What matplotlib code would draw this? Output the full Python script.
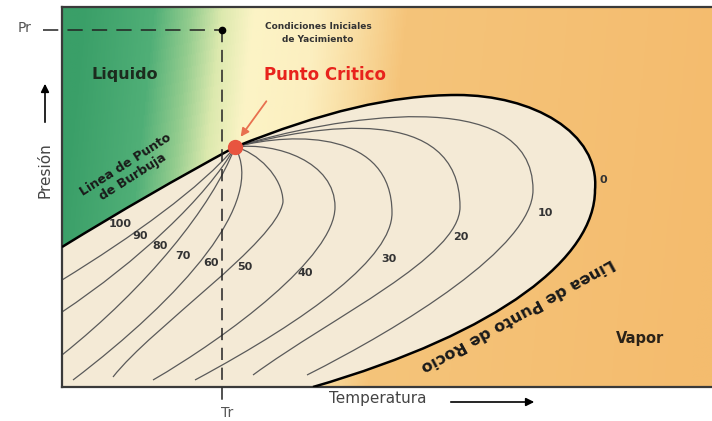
import numpy as np
import matplotlib.pyplot as plt
from matplotlib.path import Path
from matplotlib.patches import PathPatch
from matplotlib.colors import LinearSegmentedColormap

# --- data (arbitrary temperature / pressure units) ---
crit = (173, 240)
res_T, res_P = 160, 357          # condiciones iniciales de yacimiento

# bubble line (quadratic bezier), dew line (cubic bezier segments)
bubble = [(0, 140), (86, 193), crit]
dew = [crit, (260, 275), (330, 292), (395, 292),
       (470, 292), (538, 255), (533, 197),
       (533, 130), (440, 55), (251, 0)]

# quality lines (% liquid), cubic bezier control points
q90 = [crit, (140, 200), (70, 150), (0, 107)]
q80 = [crit, (145, 190), (75, 125), (0, 75)]
q70 = [crit, (150, 180), (85, 100), (0, 32)]
q60 = [crit, (205, 185), (120, 90), (11, 7)]
q50 = [crit, (195, 235), (221, 210), (221, 185), (215, 145), (90, 60), (51, 10)]
q40 = [crit, (215, 245), (273, 225), (273, 180), (273, 130), (165, 50), (91, 7)]
q30 = [crit, (235, 256), (330, 255), (330, 174), (330, 130), (250, 70), (133, 7)]
q20 = [crit, (255, 262), (398, 285), (398, 180), (398, 130), (270, 70), (191, 12)]
q10 = [crit, (270, 270), (471, 305), (471, 197), (471, 140), (340, 60), (245, 12)]
quality_lines = [q90, q80, q70, q60, q50, q40, q30, q20, q10]

q_labels = ["100", "90", "80", "70", "60", "50", "40", "30", "20", "10", "0"]
q_label_T = [58, 78, 98, 121, 149, 183, 243, 327, 399, 483, 541]
q_label_P = [163, 151, 141, 131, 124, 120, 114, 128, 150, 174, 207]

grad_pos = [0.0, 0.11, 0.166, 0.215, 0.265, 0.36, 0.43, 0.50, 1.0]
grad_col = ["#3a9f68", "#50af77", "#93cc8e", "#dce9ae", "#fcf4c6",
            "#fcefc0", "#f9dca0", "#f5c47a", "#f4bc6e"]


def bez(pts, order=4):
    code = Path.CURVE4 if order == 4 else Path.CURVE3
    return Path(pts, [Path.MOVETO] + [code] * (len(pts) - 1))


fig = plt.figure(figsize=(7.12, 4.21), dpi=100)
ax = fig.add_axes([62 / 712, 34 / 421, 650 / 712, 380 / 421])
ax.set_xlim(0, 650)
ax.set_ylim(0, 380)

# background gradient
gx, gy = np.meshgrid(np.linspace(0, 1, 500), np.linspace(0, 1, 200))
cmap = LinearSegmentedColormap.from_list("bg", list(zip(grad_pos, grad_col)))
ax.imshow(np.clip(gx - 0.06 * gy + 0.03, 0, 1), extent=(0, 650, 0, 380), origin="lower",
          cmap=cmap, vmin=0, vmax=1, aspect="auto", zorder=0)

# two phase envelope
env_pts = [(0, 0), bubble[0], bubble[1], bubble[2]] + dew[1:] + [(0, 0)]
env_codes = ([Path.MOVETO, Path.LINETO, Path.CURVE3, Path.CURVE3]
             + [Path.CURVE4] * (len(dew) - 1) + [Path.CLOSEPOLY])
ax.add_patch(PathPatch(Path(env_pts, env_codes), facecolor="#f4ead6",
                       edgecolor="none", zorder=1))

for q in quality_lines:
    ax.add_patch(PathPatch(bez(q), facecolor="none", edgecolor="#5a5a5a",
                           lw=0.9, zorder=2))

ax.add_patch(PathPatch(bez(bubble, 3), facecolor="none", edgecolor="black", lw=1.8, zorder=3))
ax.add_patch(PathPatch(bez(dew), facecolor="none", edgecolor="black", lw=1.8, zorder=3))

for lab, t, p in zip(q_labels, q_label_T, q_label_P):
    ax.text(t, p, lab, fontsize=8, fontweight="bold", color="#333333",
            ha="center", va="center", zorder=4)

# critical point
ax.plot(*crit, "o", ms=10, color="#e8553f", zorder=5)
ax.annotate("", xy=(177, 248), xytext=(206, 288),
            arrowprops=dict(arrowstyle="-|>", color="#e8704f", lw=1.3,
                            mutation_scale=12), zorder=5)
ax.text(263, 312, "Punto Critico", fontsize=12, fontweight="bold",
        color="#e8231c", ha="center", va="center")

# reservoir initial conditions
ax.plot([-19, res_T], [res_P, res_P], color="#222222", lw=1.1,
        dashes=(10, 6), clip_on=False, zorder=4)
ax.plot([res_T, res_T], [res_P, -13], color="#222222", lw=1.1,
        dashes=(8, 5), clip_on=False, zorder=4)
ax.plot(res_T, res_P, "o", ms=4.5, color="black", zorder=5)
ax.text(256, 354, "Condiciones Iniciales\nde Yacimiento", fontsize=6.5,
        fontweight="bold", color="#333333", ha="center", va="center",
        linespacing=1.5)

ax.text(63, 312, "Liquido", fontsize=11.5, fontweight="bold",
        color="#1c2b1e", ha="center", va="center")
ax.text(578, 49, "Vapor", fontsize=10.5, fontweight="bold",
        color="#2a2218", ha="center", va="center")
ax.text(67, 216, "Linea de Punto\nde Burbuja", fontsize=9, fontweight="bold",
        color="#1a1a1a", ha="center", va="center", rotation=32.5,
        rotation_mode="anchor", linespacing=1.1)
ax.text(456, 72, "Linea de Punto de Rocio", fontsize=11.5, fontweight="bold",
        color="#1a1a1a", ha="center", va="center", rotation=209,
        rotation_mode="anchor")

# axis labels & arrows
ax.text(-37, 359, "Pr", fontsize=10, color="#555555", ha="center", va="center")
ax.text(165, -26, "Tr", fontsize=10, color="#555555", ha="center", va="center")
ax.text(-17, 217, "Presión", fontsize=11, color="#444444", rotation=90,
        ha="center", va="center")
ax.annotate("", xy=(-17, 306), xytext=(-17, 262), annotation_clip=False,
            arrowprops=dict(arrowstyle="-|>", color="black", lw=1.2, mutation_scale=12))
ax.text(316, -11, "Temperatura", fontsize=11, color="#444444",
        ha="center", va="center")
ax.annotate("", xy=(475, -15), xytext=(386, -15), annotation_clip=False,
            arrowprops=dict(arrowstyle="-|>", color="black", lw=1.2, mutation_scale=12))

ax.set_xticks([])
ax.set_yticks([])
for s in ["left", "top", "bottom"]:
    ax.spines[s].set_color("#3a3a3a")
    ax.spines[s].set_linewidth(1.6)
ax.spines["right"].set_visible(False)

fig.savefig("out.png", dpi=100)
